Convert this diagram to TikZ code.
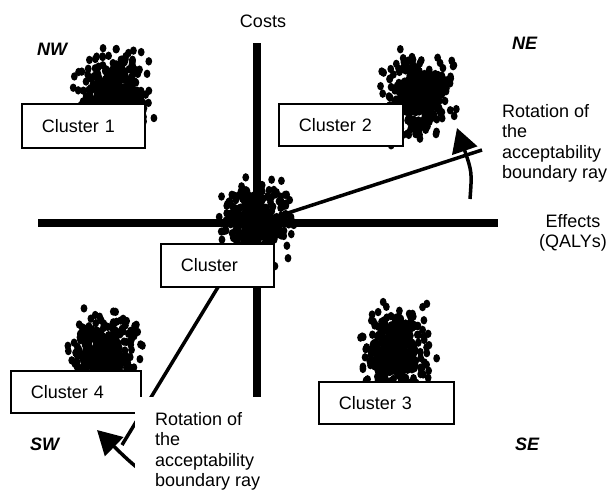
\documentclass[tikz,border=0pt]{standalone}
\usepackage{fontspec}
\setmainfont{Liberation Sans}
\usetikzlibrary{arrows.meta}
\newcommand\dotcluster[3]{% seed, cx, cy
  \pgfmathsetseed{#1}%
  \foreach \k in {1,...,300}{%
    \pgfmathsetmacro\px{#2+14.5*(rand+rand+rand)}%
    \pgfmathsetmacro\py{#3+17*(rand+rand+rand)}%
    \fill (\px,\py) ellipse [x radius=3.4, y radius=4.2];
  }%
  \foreach \k in {1,...,45}{%
    \pgfmathsetmacro\px{#2+23*(rand+rand)}%
    \pgfmathsetmacro\py{#3+27*(rand+rand)}%
    \fill (\px,\py) ellipse [x radius=3.4, y radius=4.2];
  }}
\begin{document}
\begin{tikzpicture}[x=1pt,y=-1pt,
  every node/.style={font=\fontsize{18}{20.5}\selectfont},
  axis/.style={line width=8pt},
  ray/.style={line width=3.5pt},
  rot/.style={line width=3.5pt,-{Triangle[length=24pt,width=26pt]}},
  cbox/.style={draw,line width=1.6pt,fill=white,anchor=north west,align=left,inner xsep=20pt,inner ysep=0pt},
  quad/.style={font=\fontsize{18}{20.5}\selectfont\bfseries\itshape,anchor=base west,inner sep=0pt},
  lbl/.style={inner sep=0pt,align=left}]
\useasboundingbox (0,0) rectangle (610,490);
% axes
\coordinate (O) at (257,223);
\coordinate (ytop) at (257,43);
\coordinate (ybot) at (257,420);
\coordinate (xl) at (38,223);
\coordinate (xr) at (498,223);
\draw[axis] (ytop) -- (ybot);
\draw[axis] (xl) -- (xr);
% rays
\coordinate (rNE) at (482,150);
\coordinate (rSW) at (122,445);
\draw[ray] (O) -- (rNE);
\draw[ray] (O) -- (rSW);
% clusters of dots
\dotcluster{11}{115}{92}
\dotcluster{23}{418}{94}
\dotcluster{37}{256}{222}
\dotcluster{41}{105}{352}
\dotcluster{53}{396}{350}
% boxes
\node[cbox,text width=83pt,minimum height=44pt] (c1) at (21,103) {Cluster 1};
\node[cbox,text width=84pt,minimum height=42pt] (c2) at (278,103) {Cluster 2};
\node[cbox,text width=73pt,minimum height=43pt] (c0) at (160,243) {Cluster};
\node[cbox,text width=90pt,minimum height=42pt] (c4) at (10,370) {Cluster 4};
\node[cbox,text width=95pt,minimum height=42pt] (c3) at (318,381) {Cluster 3};
% rotation arrows
\coordinate (aNEs) at (470,199);
\coordinate (aNEe) at (457,128);
\draw[rot] (aNEs) .. controls (472,172) .. (aNEe);
\coordinate (aSWs) at (155,482);
\coordinate (aSWe) at (97,430);
\draw[rot] (aSWs) .. controls (130,462) .. (aSWe);
% labels
\node[anchor=base,inner sep=0pt] (costs) at (263,27) {Costs};
\node[quad] (nw) at (37,55) {NW};
\node[quad] (ne) at (512,49) {NE};
\node[quad] (se) at (515,450) {SE};
\node[quad] (sw) at (30,450) {SW};
\node[lbl,align=center,anchor=north] (eff) at (573,214) {Effects\\(QALYs)};
\node[lbl,anchor=north west] (rotNE) at (502,104) {Rotation of\\the\\acceptability\\boundary ray};
\node[lbl,anchor=north west,fill=white,inner xsep=20pt,inner ysep=15pt] (rotSW) at (135,397) {Rotation of\\the\\acceptability\\boundary ray};
\end{tikzpicture}
\end{document}
